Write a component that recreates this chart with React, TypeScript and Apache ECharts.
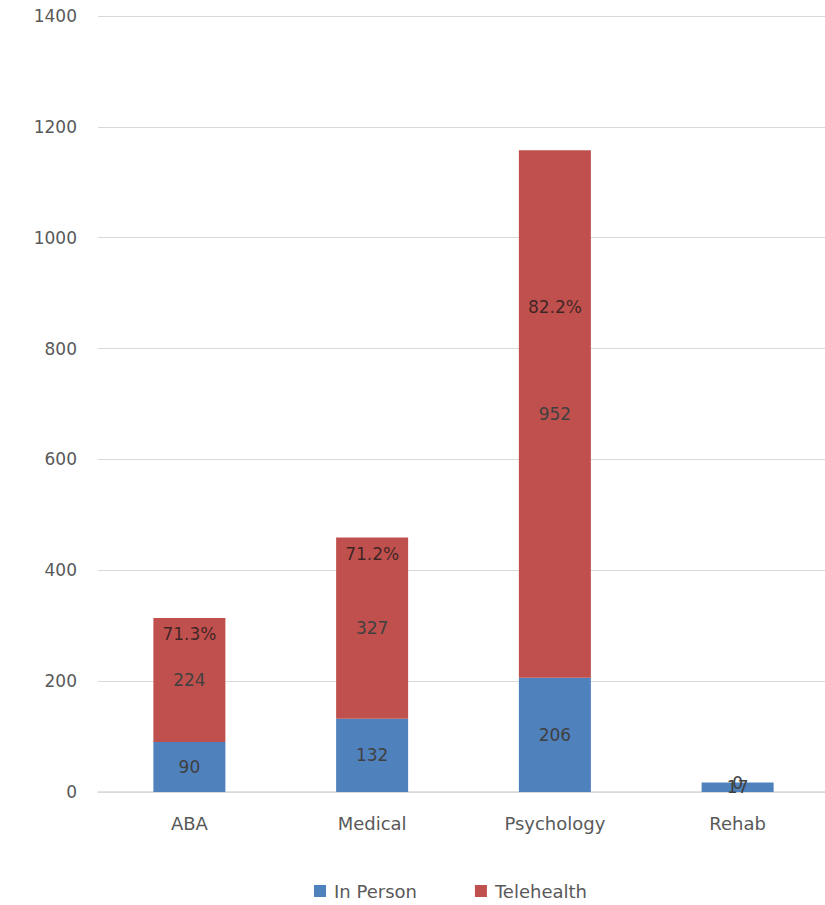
import React, { useEffect, useRef } from "react";
import * as echarts from "echarts";

const categories = ["ABA", "Medical", "Psychology", "Rehab"];
const inPerson = [90, 132, 206, 17];
const telehealth = [224, 327, 952, 0];
const shareLabels = ["71.3%", "71.2%", "82.2%", ""];
// where each share label sits on the value axis
const shareAnchors = [285, 429, 875, 0];
const yTicks = [0, 200, 400, 600, 800, 1000, 1200, 1400];

const FONT = "'DejaVu Sans', 'Liberation Sans', sans-serif";

export default function App() {
  const ref = useRef<HTMLDivElement>(null);

  useEffect(() => {
    if (!ref.current) return;
    const chart = echarts.init(ref.current, undefined, { renderer: "svg" });
    const valueLabel = {
      show: true,
      position: "inside",
      color: "#404040",
      fontSize: 17,
      fontFamily: FONT,
    };
    chart.setOption({
      animation: false,
      textStyle: { fontFamily: FONT },
      // plot area runs slightly past the visible right edge
      grid: { left: 98, top: 16, width: 731, bottom: 113 },
      legend: {
        bottom: 0,
        left: 309,
        itemWidth: 12,
        itemHeight: 12,
        itemGap: 58,
        icon: "rect",
        textStyle: { color: "#595959", fontSize: 18, fontFamily: FONT, padding: [0, 0, 0, 3] },
        data: ["In Person", "Telehealth"],
      },
      xAxis: {
        type: "category",
        data: categories,
        axisTick: { show: false },
        axisLine: { lineStyle: { color: "#d9d9d9", width: 1.5 } },
        axisLabel: { color: "#595959", fontSize: 18, margin: 22, fontFamily: FONT },
      },
      yAxis: {
        type: "value",
        min: yTicks[0],
        max: yTicks[yTicks.length - 1],
        interval: 200,
        axisLine: { show: false },
        axisTick: { show: false },
        splitLine: { lineStyle: { color: "#d9d9d9", width: 1.2 } },
        axisLabel: {
          color: "#595959",
          fontSize: 17,
          margin: 21,
          fontFamily: FONT,
          formatter: (v: number) => String(v),
        },
      },
      series: [
        {
          name: "In Person",
          type: "bar",
          stack: "total",
          barWidth: 72,
          data: inPerson,
          itemStyle: { color: "#4F81BD" },
          label: valueLabel,
        },
        {
          name: "Telehealth",
          type: "bar",
          stack: "total",
          barWidth: 72,
          data: telehealth,
          itemStyle: { color: "#C0504D" },
          label: valueLabel,
        },
        {
          name: "Share",
          type: "scatter",
          symbolSize: 0,
          silent: true,
          data: shareAnchors.map((v, i) => ({ value: v, label: { formatter: shareLabels[i] } })),
          label: {
            show: true,
            position: "inside",
            color: "#1a1a1a",
            fontSize: 17,
            fontFamily: FONT,
          },
          z: 5,
        },
      ],
    });
    return () => chart.dispose();
  }, []);

  return (
    <div
      style={{
        position: "fixed",
        left: 0,
        top: 0,
        width: 825,
        height: 905,
        overflow: "hidden",
        background: "#fff",
      }}
    >
      <div ref={ref} style={{ width: 840, height: 905 }} />
    </div>
  );
}
